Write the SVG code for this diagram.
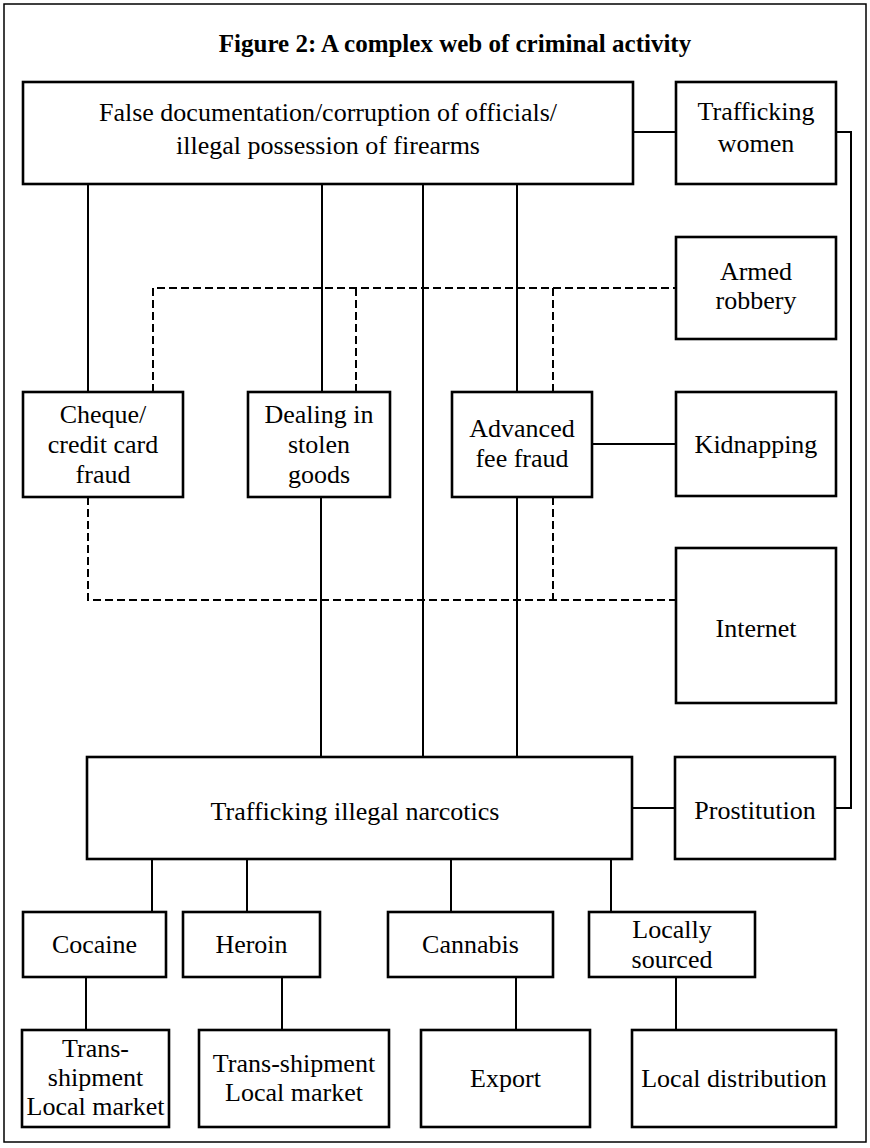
<svg xmlns="http://www.w3.org/2000/svg" width="870" height="1148" viewBox="0 0 870 1148">
<style>
.frame{fill:none;stroke:#000;stroke-width:1.5}
.box{fill:#fff;stroke:#000;stroke-width:2.6}
.t{font-family:"Liberation Serif","Times New Roman",serif;font-size:26px;fill:#000;text-anchor:middle}
.title{font-family:"Liberation Serif","Times New Roman",serif;font-size:25px;font-weight:bold;fill:#000;text-anchor:middle}
.solid{fill:none;stroke:#000;stroke-width:2}
.dash{fill:none;stroke:#000;stroke-width:2;stroke-dasharray:8 4}
</style>
<rect width="870" height="1148" fill="#fff"/>
<rect class="frame" x="4" y="4" width="862" height="1138"/>
<text class="title" x="455" y="52">Figure 2: A complex web of criminal activity</text>
<g id="connectors">
<path class="solid" d="M88,184 V392"/>
<path class="solid" d="M322,184 V392"/>
<path class="solid" d="M423,184 V757"/>
<path class="solid" d="M517,184 V392"/>
<path class="solid" d="M321,497 V757"/>
<path class="solid" d="M517,497 V757"/>
<path class="solid" d="M633,132 H676"/>
<path class="solid" d="M592,444 H676"/>
<path class="solid" d="M836,132 H851 V808 H835"/>
<path class="solid" d="M632,808 H675"/>
<path class="solid" d="M152,859 V912"/>
<path class="solid" d="M247,859 V912"/>
<path class="solid" d="M451,859 V912"/>
<path class="solid" d="M611,859 V912"/>
<path class="solid" d="M86,977 V1030"/>
<path class="solid" d="M282,977 V1030"/>
<path class="solid" d="M516,977 V1030"/>
<path class="solid" d="M676,977 V1030"/>
<path class="dash" d="M153,392 V288 H676"/>
<path class="dash" d="M356,288 V392"/>
<path class="dash" d="M553,288 V392"/>
<path class="dash" d="M88,497 V600 H676"/>
<path class="dash" d="M553,497 V600"/>
</g>
<g id="n-top"><rect class="box" x="23" y="82" width="610" height="102"/>
<text class="t" x="328" y="121">False documentation/corruption of officials/</text>
<text class="t" x="328" y="154">illegal possession of firearms</text></g>
<g id="n-women"><rect class="box" x="676" y="82" width="160" height="102"/>
<text class="t" x="756" y="120">Trafficking</text>
<text class="t" x="756" y="152">women</text></g>
<g id="n-armed"><rect class="box" x="676" y="237" width="160" height="102"/>
<text class="t" x="756" y="280">Armed</text>
<text class="t" x="756" y="309">robbery</text></g>
<g id="n-cheque"><rect class="box" x="23" y="392" width="160" height="105"/>
<text class="t" x="103" y="423">Cheque/</text>
<text class="t" x="103" y="453">credit card</text>
<text class="t" x="103" y="483">fraud</text></g>
<g id="n-dealing"><rect class="box" x="248" y="392" width="142" height="105"/>
<text class="t" x="319" y="423">Dealing in</text>
<text class="t" x="319" y="453">stolen</text>
<text class="t" x="319" y="483">goods</text></g>
<g id="n-advanced"><rect class="box" x="452" y="392" width="140" height="105"/>
<text class="t" x="522" y="437">Advanced</text>
<text class="t" x="522" y="467">fee fraud</text></g>
<g id="n-kidnap"><rect class="box" x="676" y="392" width="160" height="104"/>
<text class="t" x="756" y="453">Kidnapping</text></g>
<g id="n-internet"><rect class="box" x="676" y="548" width="160" height="155"/>
<text class="t" x="756" y="637">Internet</text></g>
<g id="n-narcotics"><rect class="box" x="87" y="757" width="545" height="102"/>
<text class="t" x="355" y="820">Trafficking illegal narcotics</text></g>
<g id="n-prostitution"><rect class="box" x="675" y="757" width="160" height="102"/>
<text class="t" x="755" y="819">Prostitution</text></g>
<g id="n-cocaine"><rect class="box" x="23" y="912" width="143" height="65"/>
<text class="t" x="94.5" y="953">Cocaine</text></g>
<g id="n-heroin"><rect class="box" x="183" y="912" width="137" height="65"/>
<text class="t" x="251.5" y="953">Heroin</text></g>
<g id="n-cannabis"><rect class="box" x="388" y="912" width="165" height="65"/>
<text class="t" x="470.5" y="953">Cannabis</text></g>
<g id="n-locally"><rect class="box" x="589" y="912" width="166" height="65"/>
<text class="t" x="672" y="938">Locally</text>
<text class="t" x="672" y="968">sourced</text></g>
<g id="n-trans1"><rect class="box" x="22" y="1030" width="147" height="97"/>
<text class="t" x="95.5" y="1057">Trans-</text>
<text class="t" x="95.5" y="1086">shipment</text>
<text class="t" x="95.5" y="1115">Local market</text></g>
<g id="n-trans2"><rect class="box" x="199" y="1030" width="190" height="97"/>
<text class="t" x="294" y="1072">Trans-shipment</text>
<text class="t" x="294" y="1101">Local market</text></g>
<g id="n-export"><rect class="box" x="421" y="1030" width="169" height="97"/>
<text class="t" x="505.5" y="1087">Export</text></g>
<g id="n-localdist"><rect class="box" x="632" y="1030" width="204" height="97"/>
<text class="t" x="734" y="1087">Local distribution</text></g>
</svg>
